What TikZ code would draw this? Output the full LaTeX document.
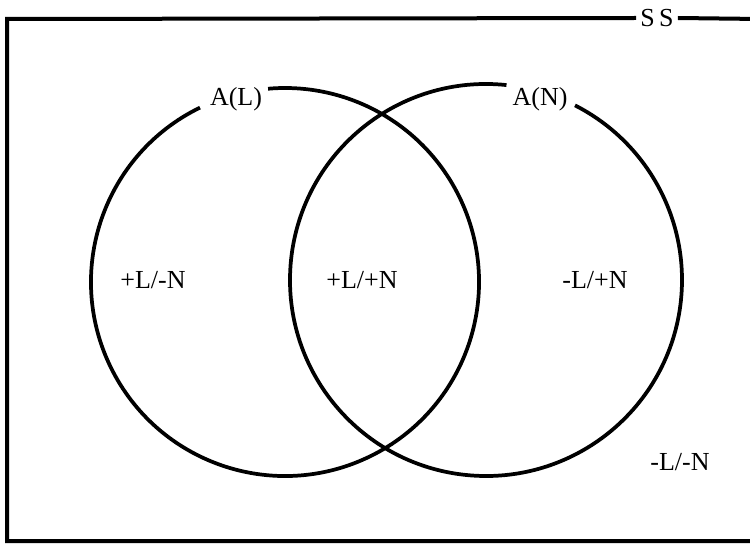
\documentclass[tikz,border=0pt]{standalone}
\usepackage{fontspec}
\setmainfont{Liberation Serif}
\usetikzlibrary{positioning, calc}

\begin{document}
\begin{tikzpicture}[
    x=0.75pt, y=0.75pt,
    ring/.style={line width=2.8pt},
    frame/.style={line width=3pt},
    region/.style={font=\fontsize{19.5}{22}\selectfont, inner sep=1pt},
    tag/.style={font=\fontsize{19.5}{22}\selectfont, inner sep=3pt}
]
\useasboundingbox (0,0) rectangle (750,547);

% Insieme SS
\node[tag, fill=white] (ss) at (657,529) {S\,S};
\coordinate (tl) at (7,528);
\coordinate (bl) at (7,6);
\coordinate (br) at (760,6);
\coordinate (tr) at (760,528);
\draw[frame] (ss.west) -- (tl) -- (bl) -- (br);
\draw[frame] (ss.east) -- (tr);

% Cerchi
\coordinate (cL) at (285,265);
\coordinate (cN) at (486,267);
\draw[ring] (cL) ++(116:194) arc[start angle=116, end angle=455, radius=194];
\draw[ring] (cN) ++(84:196) arc[start angle=84, end angle=423, radius=196];

\node[tag] (aL) at (236,448) {A(L)};
\node[tag] (aN) at (540,448) {A(N)};

% Regioni
\node[region] (r1) at (153,267) {+L/-N};
\node[region] (r2) at (362,267) {+L/+N};
\node[region] (r3) at (595,267) {-L/+N};
\node[region] (r4) at (680,85) {-L/-N};

\end{tikzpicture}
\end{document}
